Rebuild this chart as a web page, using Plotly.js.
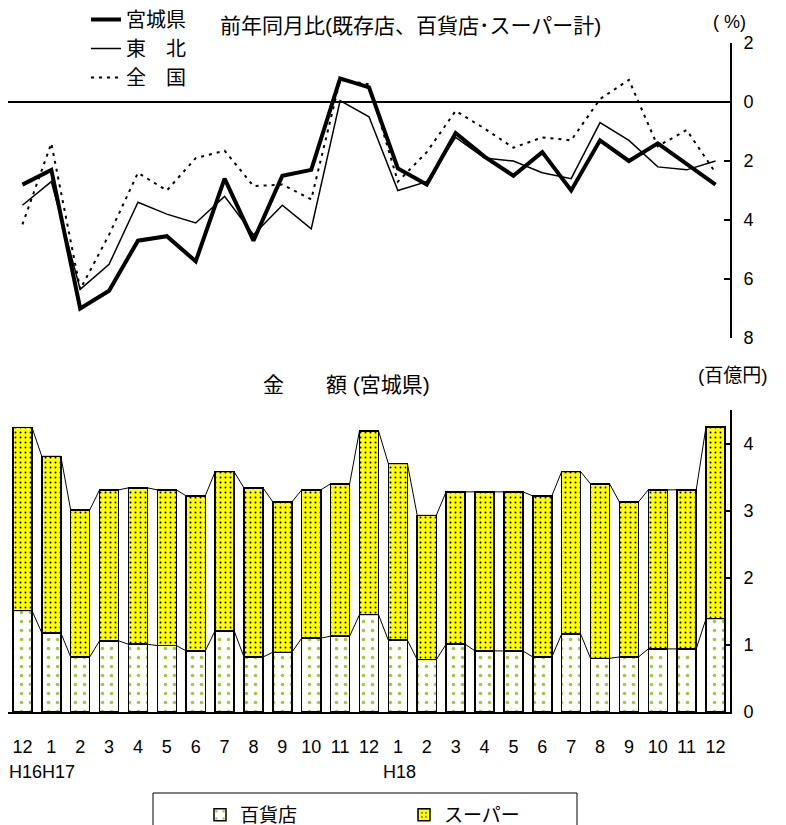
<!DOCTYPE html>
<html><head><meta charset="utf-8">
<script src="https://cdn.plot.ly/plotly-3.0.1.min.js"></script>
<style>html,body{margin:0;padding:0;overflow:hidden;background:#fff}#chart{width:786px;height:850px}</style>
</head><body><div id="chart"></div>
<script>
// ---- data ----
const months = ['12','1','2','3','4','5','6','7','8','9','10','11','12','1','2','3','4','5','6','7','8','9','10','11','12'];
const yearLabels = ['H16','H17','H18'];
const yearIndex = [0, 1, 13];
// 前年同月比 (%)
const miyagi  = [-2.8,-2.3,-7.0,-6.4,-4.7,-4.55,-5.4,-2.6,-4.7,-2.5,-2.3,0.8,0.5,-2.25,-2.8,-1.05,-1.85,-2.5,-1.7,-3.0,-1.3,-2.0,-1.4,-2.1,-2.8];
const tohoku  = [-3.5,-2.7,-6.35,-5.5,-3.4,-3.8,-4.1,-3.2,-4.5,-3.5,-4.3,0.05,-0.5,-3.0,-2.7,-1.2,-1.9,-2.0,-2.4,-2.6,-0.7,-1.3,-2.2,-2.3,-2.0];
const zenkoku = [-4.15,-1.4,-6.35,-4.5,-2.4,-3.0,-1.9,-1.65,-2.85,-2.8,-3.3,0.75,0.6,-2.7,-1.7,-0.3,-0.9,-1.55,-1.2,-1.3,0.1,0.75,-1.5,-0.95,-2.4];
// 金額 (百億円)
const dept   = [1.51,1.18,0.82,1.06,1.01,0.99,0.91,1.21,0.82,0.89,1.10,1.13,1.45,1.07,0.78,1.01,0.91,0.91,0.82,1.16,0.80,0.82,0.94,0.94,1.39];
const superm = [2.73,2.63,2.19,2.25,2.33,2.32,2.31,2.37,2.52,2.24,2.21,2.27,2.74,2.63,2.15,2.27,2.37,2.37,2.40,2.42,2.60,2.31,2.37,2.37,2.86];
const pctTickVals = [2,0,-2,-4,-6,-8];
const pctTickText = ['2','0','2','4','6','8'];
const amtTickVals = [0,1,2,3,4];

// ---- build ----
const W = 786, H = 850;
const px = v => v / W, py = v => 1 - v / H;
const idx = months.map((_, i) => i);
const BW = 0.66;
const total = dept.map((d, i) => d + superm[i]);
function connector(vals){
  const xs = [], ys = [];
  vals.forEach((v, i) => { xs.push(i - BW/2, i + BW/2); ys.push(v, v); });
  return {x: xs, y: ys};
}
const cTot = connector(total), cDept = connector(dept);
const FONT = 'Liberation Sans, Arial, Noto Sans CJK JP, sans-serif';

const traces = [
  {x: idx, y: zenkoku, name: '全　国', type: 'scatter', mode: 'lines', xaxis: 'x2', yaxis: 'y2',
   line: {color: '#000', width: 2, dash: '3px,5px'}, legendrank: 3, hoverinfo: 'skip'},
  {x: idx, y: tohoku, name: '東　北', type: 'scatter', mode: 'lines', xaxis: 'x2', yaxis: 'y2',
   line: {color: '#000', width: 1.5}, legendrank: 2, hoverinfo: 'skip'},
  {x: idx, y: miyagi, name: '宮城県', type: 'scatter', mode: 'lines', xaxis: 'x2', yaxis: 'y2',
   line: {color: '#000', width: 4}, legendrank: 1, hoverinfo: 'skip'},
  {x: idx, y: dept, name: '百貨店', type: 'bar', width: BW, legend: 'legend2', legendrank: 1,
   marker: {color: '#fff', line: {color: '#000', width: 1.5},
     pattern: {shape: '.', fgcolor: '#9ACD32', bgcolor: '#fff', size: 9, solidity: 0.12, fillmode: 'replace'}}},
  {x: idx, y: superm, name: 'スーパー', type: 'bar', width: BW, legend: 'legend2', legendrank: 2,
   marker: {color: '#FFFF00', line: {color: '#000', width: 1.5},
     pattern: {shape: '.', fgcolor: '#000', bgcolor: '#FFFF00', size: 5, solidity: 0.12, fillmode: 'replace'}}},
  {x: cTot.x, y: cTot.y, type: 'scatter', mode: 'lines', line: {color: '#000', width: 1}, showlegend: false, hoverinfo: 'skip'},
  {x: cDept.x, y: cDept.y, type: 'scatter', mode: 'lines', line: {color: '#000', width: 1}, showlegend: false, hoverinfo: 'skip'}
];

const layout = {
  width: W, height: H,
  margin: {l: 0, r: 0, t: 0, b: 0},
  paper_bgcolor: '#fff', plot_bgcolor: 'rgba(0,0,0,0)',
  font: {family: FONT, color: '#000', size: 18},
  barmode: 'stack',
  showlegend: true,
  xaxis: {domain: [px(8), px(730)], range: [-0.5, 24.5], anchor: 'y',
    tickmode: 'array', tickvals: idx, ticktext: months, tickangle: 0,
    showline: true, linecolor: '#000', linewidth: 2, ticks: '', ticklabelstandoff: 17,
    showgrid: false, zeroline: false, tickfont: {size: 18}},
  xaxis2: {domain: [px(8), px(730)], matches: 'x', anchor: 'y2',
    showticklabels: false, showline: false, showgrid: false, zeroline: false, ticks: ''},
  yaxis: {domain: [py(712), py(410)], range: [0, 4.5], anchor: 'x', side: 'right',
    tickmode: 'array', tickvals: amtTickVals, ticks: 'inside', ticklen: 6, tickwidth: 2, tickcolor: '#000',
    showline: true, linecolor: '#000', linewidth: 2, showgrid: false, zeroline: false,
    ticklabelstandoff: 8, tickfont: {size: 18}},
  yaxis2: {domain: [py(338), py(43)], range: [-8, 2], anchor: 'x2', side: 'right',
    tickmode: 'array', tickvals: pctTickVals, ticktext: pctTickText, ticks: 'inside', ticklen: 6, tickwidth: 2, tickcolor: '#000',
    showline: true, linecolor: '#000', linewidth: 2, showgrid: false,
    zeroline: true, zerolinecolor: '#000', zerolinewidth: 2,
    ticklabelstandoff: 8, tickfont: {size: 18}},
  legend: {x: px(86), y: py(0), xanchor: 'left', yanchor: 'top', bgcolor: 'rgba(0,0,0,0)',
    font: {size: 20}, traceorder: 'normal', tracegroupgap: 0, borderwidth: 0},
  legend2: {orientation: 'h', x: px(200), y: py(796), xanchor: 'left', yanchor: 'top', traceorder: 'normal',
    entrywidth: 159, entrywidthmode: 'pixels', bgcolor: 'rgba(0,0,0,0)', font: {size: 19}, borderwidth: 0},
  shapes: [{type: 'rect', xref: 'paper', yref: 'paper', x0: px(153), x1: px(577), y0: py(845), y1: py(793),
    line: {color: '#000', width: 1}, fillcolor: 'rgba(0,0,0,0)'}],
  annotations: [
    {text: '前年同月比(既存店、百貨店･スーパー計)', xref: 'paper', yref: 'paper', x: px(410), xanchor: 'center', y: py(25), yanchor: 'middle', showarrow: false, font: {size: 21}},
    {text: '( %)', xref: 'paper', yref: 'paper', x: px(729), xanchor: 'center', y: py(22), yanchor: 'middle', showarrow: false, font: {size: 18}},
    {text: '金　　額 (宮城県)', xref: 'paper', yref: 'paper', x: px(346), xanchor: 'center', y: py(385), yanchor: 'middle', showarrow: false, font: {size: 21}},
    {text: '(百億円)', xref: 'paper', yref: 'paper', x: px(733), xanchor: 'center', y: py(375), yanchor: 'middle', showarrow: false, font: {size: 19}},
    {text: yearLabels[0], xref: 'x', yref: 'paper', x: yearIndex[0] + 0.5, xanchor: 'right', xshift: 7, y: py(772), yanchor: 'middle', showarrow: false, font: {size: 18}},
    {text: yearLabels[1], xref: 'x', yref: 'paper', x: yearIndex[1] - 0.5, xanchor: 'left', xshift: 3, y: py(772), yanchor: 'middle', showarrow: false, font: {size: 18}},
    {text: yearLabels[2], xref: 'x', yref: 'paper', x: yearIndex[2], xanchor: 'center', xshift: 2, y: py(772), yanchor: 'middle', showarrow: false, font: {size: 18}}
  ]
};

Plotly.newPlot('chart', traces, layout, {staticPlot: true, displayModeBar: false});
</script>
</body></html>
